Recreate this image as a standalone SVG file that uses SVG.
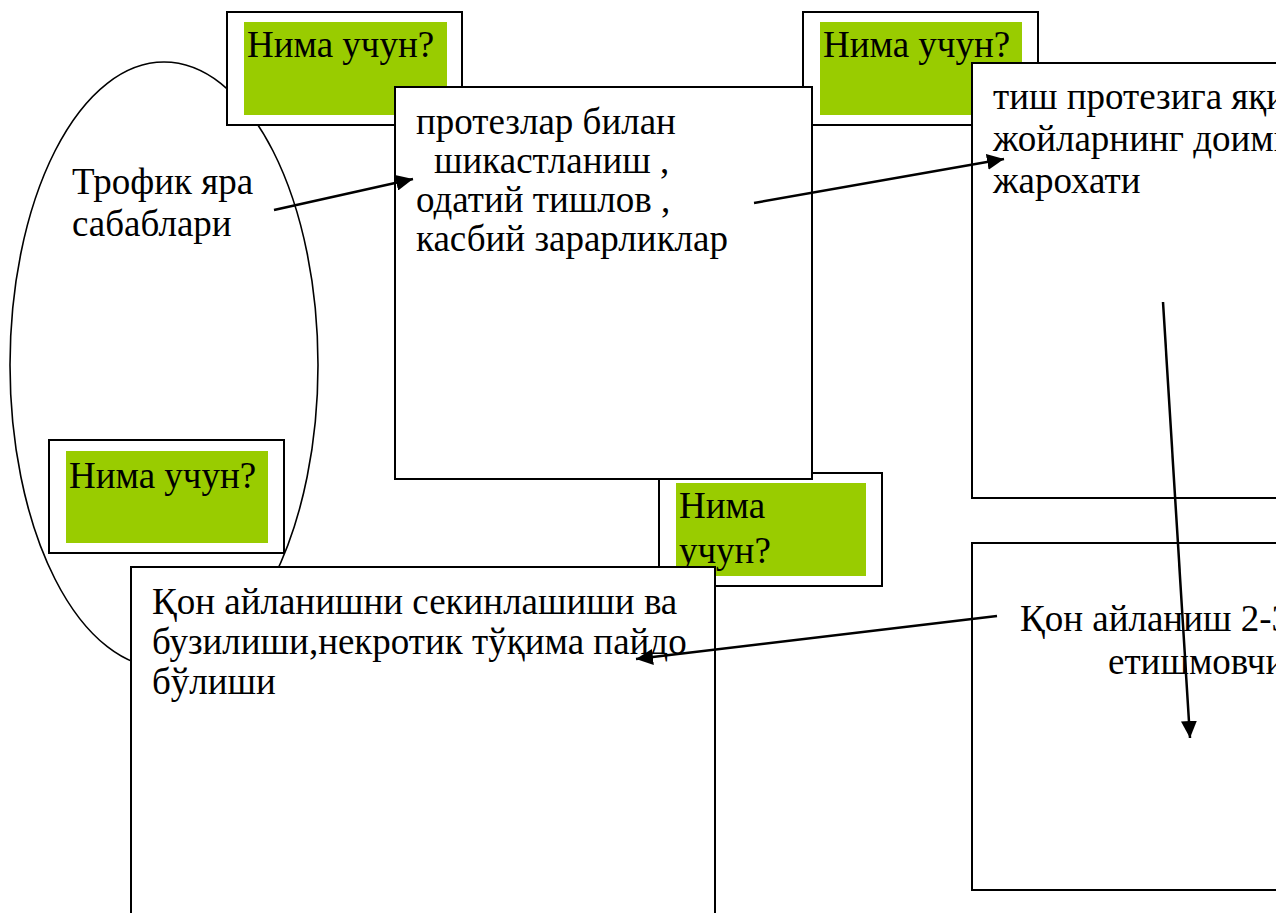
<svg xmlns="http://www.w3.org/2000/svg" width="1276" height="913" viewBox="0 0 1276 913">
<defs>
<style>
.box{fill:#ffffff;stroke:#000000;stroke-width:2}
.tag{fill:#99cc00;stroke:none}
.conn{stroke:#000000;stroke-width:2.5;fill:none;marker-end:url(#ah)}
text{font-family:'Liberation Serif','Noto Serif','DejaVu Serif',serif;font-size:37px;fill:#000000}
</style>
<marker id="ah" markerUnits="userSpaceOnUse" markerWidth="18" markerHeight="16" refX="17" refY="8" orient="auto">
<path d="M0,0 L17,8 L0,16 z" fill="#000000"/>
</marker>
</defs>
<rect width="1276" height="913" fill="#ffffff"/>
<g id="ellipse-node">
<ellipse cx="164" cy="365" rx="154" ry="303" fill="none" stroke="#000000" stroke-width="1.6"/>
<text x="72" y="194">Трофик яра</text>
<text x="72" y="236">сабаблари</text>
</g>
<g id="why4">
<rect class="box" x="659" y="473" width="223" height="113"/>
<rect class="tag" x="676" y="483" width="190" height="93"/>
<text x="679" y="518">Нима</text>
<text x="679" y="563">учун?</text>
</g>
<g id="why1">
<rect class="box" x="227" y="12" width="235" height="113"/>
<rect class="tag" x="244" y="22" width="203" height="93"/>
<text x="247" y="57">Нима учун?</text>
</g>
<g id="why2">
<rect class="box" x="803" y="12" width="235" height="113"/>
<rect class="tag" x="820" y="22" width="202" height="93"/>
<text x="823" y="57">Нима учун?</text>
</g>
<g id="cause1">
<rect class="box" x="395" y="87" width="417" height="392"/>
<text x="416" y="134">протезлар билан</text>
<text x="434" y="173">шикастланиш ,</text>
<text x="416" y="212">одатий тишлов ,</text>
<text x="416" y="251">касбий зарарликлар</text>
</g>
<g id="cause2">
<rect class="box" x="972" y="63" width="320" height="435"/>
<text x="993" y="109">тиш протезига яқин</text>
<text x="993" y="151">жойларнинг доимий</text>
<text x="993" y="193">жарохати</text>
</g>
<g id="why3">
<rect class="box" x="49" y="440" width="235" height="113"/>
<rect class="tag" x="66" y="451" width="202" height="92"/>
<text x="69" y="488">Нима учун?</text>
</g>
<g id="cause4">
<rect class="box" x="131" y="567" width="584" height="360"/>
<text x="152" y="614">Қон айланишни секинлашиши ва</text>
<text x="152" y="654">бузилиши,некротик тўқима пайдо</text>
<text x="152" y="694">бўлиши</text>
</g>
<g id="cause3">
<rect class="box" x="972" y="543" width="320" height="347"/>
<text x="1020" y="631">Қон айланиш 2-3</text>
<text x="1108" y="674">етишмовчилиги</text>
</g>
<g id="connectors">
<line class="conn" x1="274" y1="210" x2="413" y2="179"/>
<line class="conn" x1="754" y1="203" x2="1004" y2="159"/>
<line class="conn" x1="1163" y1="302" x2="1190" y2="738"/>
<line class="conn" x1="997" y1="616" x2="636" y2="659"/>
</g>
</svg>
